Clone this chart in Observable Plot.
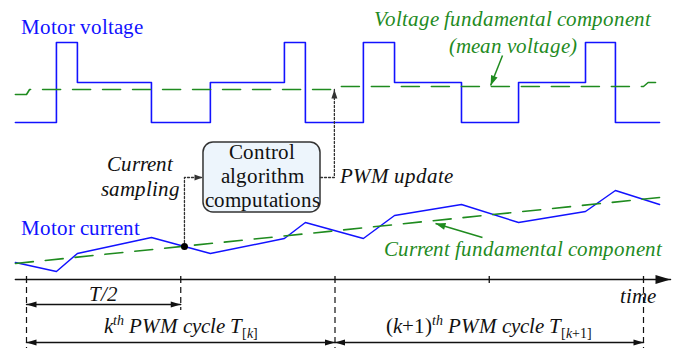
<!DOCTYPE html>
<html><head><meta charset="utf-8">
<script src="https://cdn.jsdelivr.net/npm/d3@7"></script>
<script src="https://cdn.jsdelivr.net/npm/@observablehq/plot@0.6"></script>
<style>
@font-face { font-family: "DiagramSerif"; font-style: normal; src: local("Liberation Serif"), local("LiberationSerif"), local("Liberation Serif Regular"); }
@font-face { font-family: "DiagramSerif"; font-style: italic; src: local("Liberation Serif Italic"), local("LiberationSerif-Italic"); }
html,body{margin:0;padding:0;background:#fff;}
#chart{width:676px;height:348px;overflow:hidden;}
</style></head><body><div id="chart"></div>
<script>
// ---- data (time t in PWM periods; t = 0 at start of the k-th cycle) ----
const edgeTimes      = [-0.036, 0.097, 0.165, 0.405, 0.596, 0.836, 0.904, 1.092, 1.193, 1.410, 1.595, 1.812, 1.909, 2.052];
const voltageLevels  = [0, 2, 1, 0, 1, 2, 0, 2, 1, 0, 1, 2, 0, 0];
const currentValues  = [1.7, 0.8, 2.6, 4.2, 2.6, 4.1, 5.7, 4.1, 6.4, 7.5, 5.7, 6.8, 8.9, 7.5];
const meanVoltageTimes  = [-0.036, 0.0, 0.01, 1.0, 1.01, 2.0, 2.015, 2.039];
const meanVoltageLevels = [0.7, 0.7, 0.825, 0.825, 0.9, 0.9, 1.0, 1.0];
const meanCurrentTimes  = [-0.036, 2.052];
const meanCurrentValues = [1.6, 8.2];
const sampleTime = 0.512, sampleCurrent = 3.3;
const axisTicks = [0, 0.5, 1, 1.5, 2];
const cycleBounds = [0, 1, 2];
const halfBound = [0.5];
const cycleLabels = ["k^{th} PWM cycle T_{[k]}", "(k+1)^{th} PWM cycle T_{[k+1]}"];

// ---- layout ----
const BLUE = "#1212ff", GREEN = "#1f8b1f", INK = "#111", DOT = "#333";
const FONT = "DiagramSerif, 'Liberation Serif', serif";
const VOLT_U0 = 15.7, VOLT_K = 4;          // voltage lane placement
const vu = v => VOLT_U0 + VOLT_K * v;

const voltage = edgeTimes.map((t, i) => ({t, v: voltageLevels[i]}));
const current = edgeTimes.map((t, i) => ({t, i: currentValues[i]}));
const meanV = meanVoltageTimes.map((t, i) => ({t, v: meanVoltageLevels[i]}));
const meanI = meanCurrentTimes.map((t, i) => ({t, i: meanCurrentValues[i]}));

function head(L, W) {
  return (color) => {
    const m = d3.create("svg:marker")
      .attr("viewBox", `${-L} ${-W/2} ${L} ${W}`)
      .attr("markerWidth", L).attr("markerHeight", W)
      .attr("markerUnits", "userSpaceOnUse")
      .attr("orient", "auto-start-reverse")
      .attr("refX", 0).attr("refY", 0)
      .attr("overflow", "visible");
    m.append("path").attr("d", `M0,0L${-L},${-W/2}L${-L},${W/2}Z`).attr("fill", color).attr("stroke", "none");
    return m.node();
  };
}

const labels = [
  {text: "Motor voltage", t: -0.0194, u: 24.6, anchor: "start", fill: BLUE, italic: false},
  {text: "Voltage fundamental component", t: 1.576, u: 25.4, anchor: "middle", fill: GREEN, italic: true},
  {text: "(mean voltage)", t: 1.576, u: 22.7, anchor: "middle", fill: GREEN, italic: true},
  {text: "Current\nsampling", t: 0.3695, u: 8.4, anchor: "middle", fill: INK, italic: true, lh: 1.22},
  {text: "Control\nalgorithm\ncomputations", t: 0.7634, u: 7.3, anchor: "middle", fill: INK, italic: false, lh: 1.15},
  {text: "PWM update", t: 1.0146, u: 9.7, anchor: "start", fill: INK, italic: true},
  {text: "Motor current", t: -0.0194, u: 4.5, anchor: "start", fill: BLUE, italic: false},
  {text: "Current fundamental component", t: 1.608, u: 2.4, anchor: "middle", fill: GREEN, italic: true},
  {text: "T/2", t: 0.248, u: -2.1, anchor: "middle", fill: INK, italic: true},
  {text: "time", t: 2.039, u: -2.3, anchor: "end", fill: INK, italic: true},
  {text: cycleLabels[0], t: 0.5, u: -5.3, anchor: "middle", fill: INK, italic: true},
  {text: cycleLabels[1], t: 1.5, u: -5.3, anchor: "middle", fill: INK, italic: true}
];

function rich(el, s) {
  el.textContent = "";
  const re = /\^\{([^}]*)\}|_\{([^}]*)\}|([^^_]+)/g;
  let m, cur = 0;
  while ((m = re.exec(s))) {
    const [txt, off, small] = m[1] != null ? [m[1], -8, true] : m[2] != null ? [m[2], 5, true] : [m[3], 0, false];
    const runs = txt.match(/[()\[\]+0-9]+|[^()\[\]+0-9]+/g) || [];
    runs.forEach((r, j) => {
      const ts = document.createElementNS("http://www.w3.org/2000/svg", "tspan");
      if (j === 0 && off !== cur) { ts.setAttribute("dy", off - cur); cur = off; }
      if (small) ts.setAttribute("font-size", 14);
      ts.setAttribute("font-style", /^[()\[\]+0-9]+$/.test(r) ? "normal" : "italic");
      ts.textContent = r;
      el.appendChild(ts);
    });
  }
}

function draw() {
  const textMarks = labels.map(l => Plot.text([l], {
    x: "t", y: "u", text: "text", textAnchor: l.anchor, lineAnchor: "bottom",
    fill: l.fill, fontSize: 20.5, fontFamily: FONT, fontStyle: l.italic ? "italic" : undefined,
    lineHeight: l.lh || 1
  }));
  const plot = Plot.plot({
    width: 676, height: 348, margin: 0,
    x: {domain: [-26 / 308.5, 650 / 308.5], axis: null},
    y: {domain: [-6.9, 27.9], axis: null},
    marks: [
      Plot.rect([{}], {x1: 0.5737, x2: 0.953, y1: 6.7, y2: 13.7, rx: 10, fill: "#edf5fc", stroke: "#333", strokeWidth: 1.5}),
      Plot.line(voltage, {x: "t", y: d => vu(d.v), curve: "step-after", stroke: BLUE, strokeWidth: 1.6}),
      Plot.line(meanV, {x: "t", y: d => vu(d.v), stroke: GREEN, strokeWidth: 1.6, strokeDasharray: "18,12"}),
      Plot.line(current, {x: "t", y: "i", stroke: BLUE, strokeWidth: 1.5}),
      Plot.line(meanI, {x: "t", y: "i", stroke: GREEN, strokeWidth: 1.6, strokeDasharray: "18,12"}),
      Plot.link([{x1: 1.543, y1: 22.4, x2: 1.5045, y2: 19.4}], {x1: "x1", y1: "y1", x2: "x2", y2: "y2", stroke: GREEN, strokeWidth: 1.5, markerEnd: head(10, 7)}),
      Plot.link([{x1: 1.478, y1: 4.2, x2: 1.3258, y2: 5.6}], {x1: "x1", y1: "y1", x2: "x2", y2: "y2", stroke: GREEN, strokeWidth: 1.5, markerEnd: head(10, 7)}),
      Plot.line([{t: sampleTime, u: sampleCurrent}, {t: sampleTime, u: 10.2}, {t: 0.5705, u: 10.2}], {x: "t", y: "u", stroke: DOT, strokeWidth: 1.3, strokeDasharray: "2,2", markerEnd: head(8, 6)}),
      Plot.line([{t: 0.953, u: 10.2}, {t: 0.998, u: 10.2}, {t: 0.998, u: 19.0}], {x: "t", y: "u", stroke: DOT, strokeWidth: 1.3, strokeDasharray: "2,2", markerEnd: head(9, 6)}),
      Plot.dot([{t: sampleTime, i: sampleCurrent}], {x: "t", y: "i", r: 3.5, fill: "black"}),
      Plot.line([{t: -0.036, u: 0}, {t: 2.0875, u: 0}], {x: "t", y: "u", stroke: INK, strokeWidth: 1.5, markerEnd: head(15, 9)}),
      Plot.ruleX(axisTicks, {x: d => d, y1: 0.3, y2: -0.4, stroke: INK, strokeWidth: 1.3}),
      Plot.ruleX(cycleBounds, {x: d => d, y1: -0.8, y2: -6.9, stroke: INK, strokeWidth: 1.2, strokeDasharray: "6,4"}),
      Plot.ruleX(halfBound, {x: d => d, y1: -0.8, y2: -3.1, stroke: INK, strokeWidth: 1.2, strokeDasharray: "6,4"}),
      Plot.line([{t: 0, u: -2.5}, {t: 0.5, u: -2.5}], {x: "t", y: "u", stroke: INK, strokeWidth: 1.4, markerStart: head(10, 6), markerEnd: head(10, 6)}),
      Plot.line([{t: 0, u: -6.3}, {t: 1, u: -6.3}], {x: "t", y: "u", stroke: INK, strokeWidth: 1.4, markerStart: head(10, 6), markerEnd: head(10, 6)}),
      Plot.line([{t: 1, u: -6.3}, {t: 2, u: -6.3}], {x: "t", y: "u", stroke: INK, strokeWidth: 1.4, markerStart: head(10, 6), markerEnd: head(10, 6)}),
      ...textMarks
    ]
  });
  d3.select(plot).attr("font-family", FONT);
  d3.select(plot).selectAll("text").each(function () {
    const s = this.textContent;
    if (s.includes("^{")) rich(this, s);
  });
  const host = document.getElementById("chart");
  host.replaceChildren(plot);
}

draw();
if (document.fonts && document.fonts.load) {
  Promise.all([
    document.fonts.load("20px DiagramSerif"),
    document.fonts.load("italic 20px DiagramSerif"),
    document.fonts.load("20px 'Liberation Serif'"),
    document.fonts.load("italic 20px 'Liberation Serif'")
  ]).then(draw, () => {});
}
</script>
</body></html>
